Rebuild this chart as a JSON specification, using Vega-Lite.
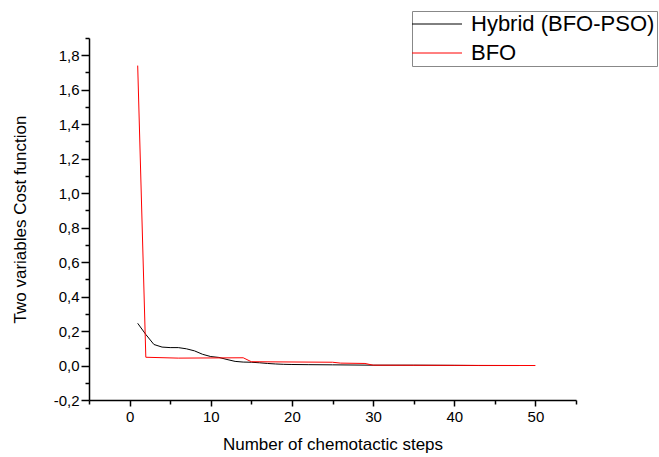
{
  "$schema": "https://vega.github.io/schema/vega-lite/v6.json",
  "width": 487,
  "height": 362,
  "autosize": {"type": "none"},
  "padding": {"left": 89, "top": 38, "right": 83, "bottom": 57},
  "background": "white",
  "config": {
    "view": {"stroke": null},
    "font": "Liberation Sans",
    "axis": {
      "domainColor": "#000000",
      "domainWidth": 1.5,
      "tickColor": "#000000",
      "tickWidth": 1.5,
      "labelColor": "#000000",
      "labelFont": "Liberation Sans",
      "labelFontSize": 15,
      "titleFont": "Liberation Sans",
      "titleFontSize": 17,
      "titleFontWeight": "normal",
      "titleColor": "#000000",
      "grid": false
    }
  },
  "data": {
    "values": [
      {"step": 1, "cost": 0.245, "series": "Hybrid (BFO-PSO)"},
      {"step": 2, "cost": 0.18, "series": "Hybrid (BFO-PSO)"},
      {"step": 3, "cost": 0.122, "series": "Hybrid (BFO-PSO)"},
      {"step": 4, "cost": 0.107, "series": "Hybrid (BFO-PSO)"},
      {"step": 5, "cost": 0.104, "series": "Hybrid (BFO-PSO)"},
      {"step": 6, "cost": 0.104, "series": "Hybrid (BFO-PSO)"},
      {"step": 7, "cost": 0.097, "series": "Hybrid (BFO-PSO)"},
      {"step": 8, "cost": 0.085, "series": "Hybrid (BFO-PSO)"},
      {"step": 9, "cost": 0.065, "series": "Hybrid (BFO-PSO)"},
      {"step": 10, "cost": 0.052, "series": "Hybrid (BFO-PSO)"},
      {"step": 11, "cost": 0.047, "series": "Hybrid (BFO-PSO)"},
      {"step": 12, "cost": 0.035, "series": "Hybrid (BFO-PSO)"},
      {"step": 13, "cost": 0.024, "series": "Hybrid (BFO-PSO)"},
      {"step": 14, "cost": 0.02, "series": "Hybrid (BFO-PSO)"},
      {"step": 15, "cost": 0.019, "series": "Hybrid (BFO-PSO)"},
      {"step": 16, "cost": 0.016, "series": "Hybrid (BFO-PSO)"},
      {"step": 17, "cost": 0.012, "series": "Hybrid (BFO-PSO)"},
      {"step": 18, "cost": 0.009, "series": "Hybrid (BFO-PSO)"},
      {"step": 19, "cost": 0.007, "series": "Hybrid (BFO-PSO)"},
      {"step": 20, "cost": 0.006, "series": "Hybrid (BFO-PSO)"},
      {"step": 22, "cost": 0.005, "series": "Hybrid (BFO-PSO)"},
      {"step": 25, "cost": 0.004, "series": "Hybrid (BFO-PSO)"},
      {"step": 30, "cost": 0.002, "series": "Hybrid (BFO-PSO)"},
      {"step": 35, "cost": 0.002, "series": "Hybrid (BFO-PSO)"},
      {"step": 40, "cost": 0.001, "series": "Hybrid (BFO-PSO)"},
      {"step": 43, "cost": 0.0, "series": "Hybrid (BFO-PSO)"},
      {"step": 48, "cost": 0.0, "series": "Hybrid (BFO-PSO)"},
      {"step": 1, "cost": 1.74, "series": "BFO"},
      {"step": 2, "cost": 0.048, "series": "BFO"},
      {"step": 6, "cost": 0.043, "series": "BFO"},
      {"step": 14, "cost": 0.045, "series": "BFO"},
      {"step": 15, "cost": 0.022, "series": "BFO"},
      {"step": 25, "cost": 0.019, "series": "BFO"},
      {"step": 26, "cost": 0.014, "series": "BFO"},
      {"step": 29, "cost": 0.012, "series": "BFO"},
      {"step": 30, "cost": 0.002, "series": "BFO"},
      {"step": 40, "cost": 0.001, "series": "BFO"},
      {"step": 50, "cost": 0.0, "series": "BFO"}
    ]
  },
  "mark": {"type": "line", "strokeWidth": 1},
  "encoding": {
    "x": {
      "field": "step",
      "type": "quantitative",
      "scale": {"domain": [-5, 55], "nice": false, "zero": false},
      "axis": {
        "title": "Number of chemotactic steps",
        "values": [-5, 0, 5, 10, 15, 20, 25, 30, 35, 40, 45, 50, 55],
        "labelExpr": "datum.value % 10 == 0 ? datum.label : ''",
        "tickSize": {"condition": {"test": "datum.value % 10 != 0", "value": 4}, "value": 6},
        "labelPadding": 3,
        "titlePadding": 12
      }
    },
    "y": {
      "field": "cost",
      "type": "quantitative",
      "scale": {"domain": [-0.2, 1.9], "nice": false, "zero": false},
      "axis": {
        "title": "Two variables Cost function",
        "values": [-0.2, -0.1, 0, 0.1, 0.2, 0.3, 0.4, 0.5, 0.6, 0.7, 0.8, 0.9, 1.0, 1.1, 1.2, 1.3, 1.4, 1.5, 1.6, 1.7, 1.8, 1.9],
        "labelExpr": "abs(round(datum.value * 10)) % 2 == 0 ? (datum.value < 0 ? '-' : '') + replace(format(abs(datum.value), '.1f'), '.', ',') : ''",
        "tickSize": {"condition": {"test": "abs(round(datum.value * 10)) % 2 == 1", "value": 4}, "value": 8},
        "labelPadding": 2,
        "titlePadding": 24
      }
    },
    "color": {
      "field": "series",
      "type": "nominal",
      "sort": ["Hybrid (BFO-PSO)", "BFO"],
      "scale": {"domain": ["Hybrid (BFO-PSO)", "BFO"], "range": ["#000000", "#ff0000"]},
      "legend": {
        "orient": "none",
        "legendX": 323,
        "legendY": -27,
        "title": null,
        "symbolType": "M-5,0H5",
        "symbolSize": 100,
        "symbolOffset": 12,
        "symbolStrokeWidth": 1,
        "labelFont": "Liberation Sans",
        "labelFontSize": 22,
        "labelColor": "#000000",
        "labelLimit": 400,
        "labelOffset": 23,
        "strokeColor": "#888888",
        "padding": 2,
        "rowPadding": 7
      }
    }
  }
}
